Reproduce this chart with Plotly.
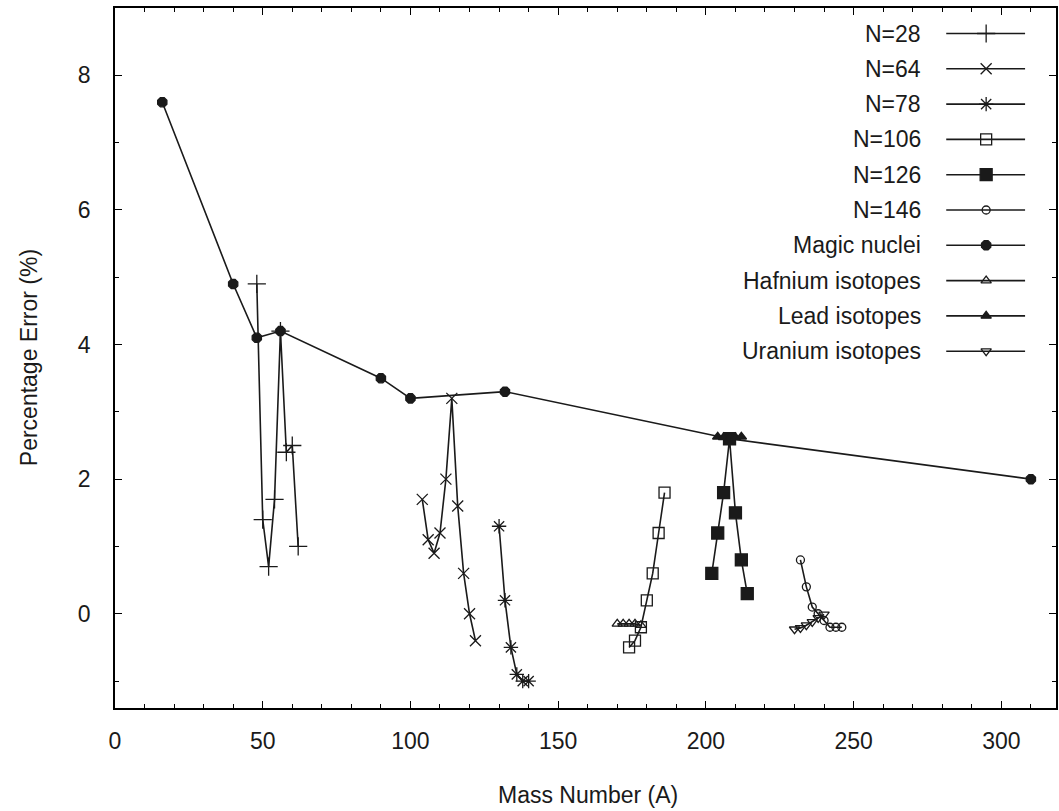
import plotly.graph_objects as go

# Isotone chains (constant neutron number N): mass number A and percentage error
n28_A = [48, 50, 52, 54, 56, 58, 60, 62]
n28_err = [4.9, 1.4, 0.7, 1.7, 4.2, 2.4, 2.5, 1.0]

n64_A = [104, 106, 108, 110, 112, 114, 116, 118, 120, 122]
n64_err = [1.7, 1.1, 0.9, 1.2, 2.0, 3.2, 1.6, 0.6, 0.0, -0.4]

n78_A = [130, 132, 134, 136, 138, 140]
n78_err = [1.3, 0.2, -0.5, -0.9, -1.0, -1.0]

n106_A = [174, 176, 178, 180, 182, 184, 186]
n106_err = [-0.5, -0.4, -0.2, 0.2, 0.6, 1.2, 1.8]

n126_A = [202, 204, 206, 208, 210, 212, 214]
n126_err = [0.6, 1.2, 1.8, 2.6, 1.5, 0.8, 0.3]

n146_A = [232, 234, 236, 238, 240, 242, 244, 246]
n146_err = [0.8, 0.4, 0.1, 0.0, -0.1, -0.2, -0.2, -0.2]

# Doubly magic nuclei
magic_A = [16, 40, 48, 56, 90, 100, 132, 208, 310]
magic_err = [7.6, 4.9, 4.1, 4.2, 3.5, 3.2, 3.3, 2.6, 2.0]

# Isotope chains (constant proton number Z)
hf_A = [170, 172, 174, 176, 178]
hf_err = [-0.15, -0.15, -0.15, -0.15, -0.17]

pb_A = [204, 206, 208, 210, 212]
pb_err = [2.63, 2.62, 2.6, 2.62, 2.63]

u_A = [230, 232, 234, 236, 238, 240]
u_err = [-0.23, -0.21, -0.17, -0.12, -0.06, -0.01]

series_names = ["N=28", "N=64", "N=78", "N=106", "N=126", "N=146",
                "Magic nuclei", "Hafnium isotopes", "Lead isotopes", "Uranium isotopes"]

FONT = "Liberation Sans, Arial, sans-serif"
FSIZE = 23
INK = "#1a1a1a"

# (x, y, symbol, size)
series = [
    (n28_A, n28_err, "cross-thin-open", 13),
    (n64_A, n64_err, "x-thin-open", 11),
    (n78_A, n78_err, "asterisk-open", 12),
    (n106_A, n106_err, "square-open", 11),
    (n126_A, n126_err, "square", 12),
    (n146_A, n146_err, "circle-open", 8),
    (magic_A, magic_err, "octagon", 10),
    (hf_A, hf_err, "triangle-up-open", 9),
    (pb_A, pb_err, "triangle-up", 9),
    (u_A, u_err, "triangle-down-open", 9),
]

fig = go.Figure()

for name, (xs, ys, sym, size) in zip(series_names, series):
    fig.add_trace(go.Scatter(
        x=xs, y=ys, name=name, mode="lines+markers",
        line=dict(color=INK, width=1.6),
        marker=dict(symbol=sym, size=size, color=INK,
                    line=dict(color=INK, width=1.3)),
        showlegend=False,
    ))

# Key drawn gnuplot-style: right-aligned label, sample line with marker to its right
W, H = 1059, 811
L, R, T, B = 115, 1, 8, 103
pw, ph = W - L - R, H - T - B


def fx(px):
    return (px - L) / pw


def fy(py):
    return (H - B - py) / ph


key_x0, key_xm, key_x1, key_text = fx(948), fx(988), fx(1027), fx(925)
row0, row_step = 33.5, 35.3

for i, (name, (xs, ys, sym, size)) in enumerate(zip(series_names, series)):
    yk = fy(row0 + row_step * i)
    fig.add_trace(go.Scatter(
        x=[key_x0, key_x1], y=[yk, yk], mode="lines",
        line=dict(color=INK, width=1.6), xaxis="x2", yaxis="y2",
        showlegend=False, hoverinfo="skip",
    ))
    fig.add_trace(go.Scatter(
        x=[key_xm], y=[yk], mode="markers",
        marker=dict(symbol=sym, size=size, color=INK,
                    line=dict(color=INK, width=1.3)),
        xaxis="x2", yaxis="y2", showlegend=False, hoverinfo="skip",
    ))
    fig.add_annotation(
        text=name, xref="paper", yref="paper", x=key_text, y=yk,
        xanchor="right", yanchor="middle", showarrow=False,
        font=dict(family=FONT, size=FSIZE, color=INK),
    )

axis_common = dict(
    showline=True, linecolor="black", linewidth=1.5, mirror="allticks",
    ticks="inside", ticklen=7, tickwidth=1.2, tickcolor="black",
    showgrid=False, zeroline=False,
    tickfont=dict(family=FONT, size=FSIZE, color=INK),
)

fig.update_layout(
    width=W, height=H,
    margin=dict(l=L, r=R, t=T, b=B),
    paper_bgcolor="white", plot_bgcolor="white",
    showlegend=False,
    xaxis=dict(
        range=[0, 318.5], tickmode="array", tickvals=[0, 50, 100, 150, 200, 250, 300],
        minor=dict(dtick=10, ticks="inside", ticklen=4, tickcolor="black", tickwidth=1),
        ticklabelstandoff=12,
        **axis_common,
    ),
    yaxis=dict(
        range=[-1.4, 9], tickmode="array", tickvals=[0, 2, 4, 6, 8],
        minor=dict(dtick=1, ticks="inside", ticklen=4, tickcolor="black", tickwidth=1),
        ticklabelstandoff=18,
        **axis_common,
    ),
    xaxis2=dict(overlaying="x", range=[0, 1], visible=False),
    yaxis2=dict(overlaying="y", range=[0, 1], visible=False),
)

fig.add_annotation(
    text="Mass Number (A)", xref="paper", yref="paper",
    x=fx(589), y=fy(795), xanchor="center", yanchor="middle", showarrow=False,
    font=dict(family=FONT, size=FSIZE, color=INK),
)
fig.add_annotation(
    text="Percentage Error (%)", xref="paper", yref="paper",
    x=fx(29), y=fy(358), xanchor="center", yanchor="middle", showarrow=False,
    textangle=-90, font=dict(family=FONT, size=FSIZE, color=INK),
)

fig.write_html("out.html")
